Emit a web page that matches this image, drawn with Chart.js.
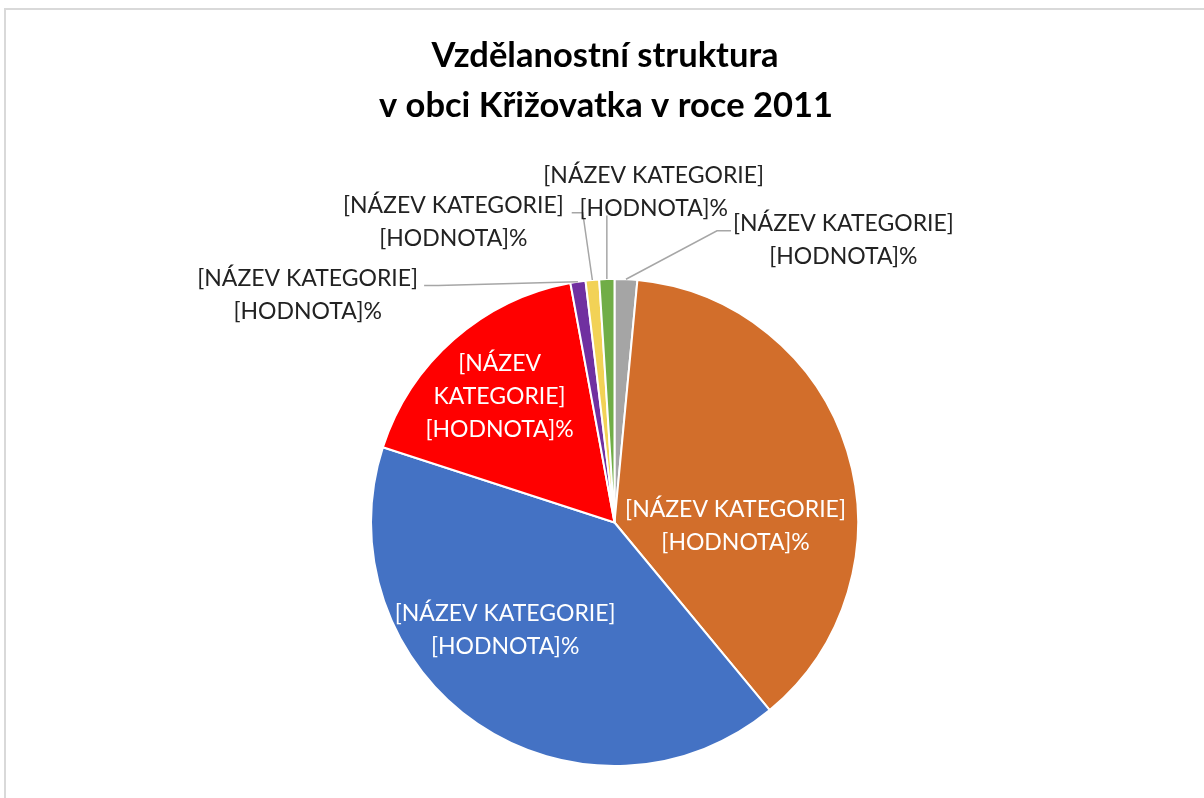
<!DOCTYPE html>
<html><head><meta charset="utf-8">
<script src="https://cdn.jsdelivr.net/npm/chart.js@4.4.1/dist/chart.umd.min.js"></script>
<style>
html,body{margin:0;padding:0;background:#fff;overflow:hidden;}
#wrap{position:absolute;left:0;top:0;width:1204px;height:798px;overflow:hidden;}
#frame{position:absolute;left:4px;top:8px;width:1400px;height:1000px;border:2px solid #D9D9D9;box-sizing:border-box;}
canvas{position:absolute;left:0;top:0;}
</style></head><body>
<div id="wrap"><div id="frame"></div><canvas id="c" width="1204" height="798"></canvas></div>
<script>
// ---- data ----
const titleLines = ['Vzdělanostní struktura', 'v obci Křižovatka v roce 2011'];
const categories = ['[NÁZEV KATEGORIE]','[NÁZEV KATEGORIE]','[NÁZEV KATEGORIE]','[NÁZEV KATEGORIE]','[NÁZEV KATEGORIE]','[NÁZEV KATEGORIE]','[NÁZEV KATEGORIE]'];
const values = [1.5, 37.5, 41.0, 17.1, 1.0, 0.9, 1.0];
const valueLabels = ['[HODNOTA]%','[HODNOTA]%','[HODNOTA]%','[HODNOTA]%','[HODNOTA]%','[HODNOTA]%','[HODNOTA]%'];
const colors = ['#A5A5A5','#D26E2B','#4472C4','#FF0000','#7030A0','#F2D256','#70AD47'];

// ---- label layout (offsets in units of pie radius) ----
const labelLayout = [
  {mode:'out', dx:0.940, dy:-1.159, side:'left', gap:2, elbow:14},
  {mode:'in', dx:0.497, dy:0.016},
  {mode:'in', dx:-0.449, dy:0.441},
  {mode:'in', dx:-0.472, dy:-0.518, wrap:true},
  {mode:'out', dx:-1.260, dy:-0.934, side:'right', gap:6, elbow:14},
  {mode:'out', dx:-0.662, dy:-1.233, side:'right', gap:8, elbow:11},
  {mode:'out', dx:0.161, dy:-1.359, side:'bottom'}
];

const LABEL_FONT = '23px Lato';
const LINE_H = 33;

const labelPlugin = {
  id: 'excelLabels',
  afterDatasetsDraw(chart) {
    const ctx = chart.ctx;
    const meta = chart.getDatasetMeta(0);
    ctx.save();
    ctx.font = LABEL_FONT;
    ctx.textAlign = 'center';
    ctx.textBaseline = 'middle';
    meta.data.forEach((arc, i) => {
      const L = labelLayout[i];
      const p = arc.getProps(['x','y','startAngle','endAngle','outerRadius'], true);
      const r = p.outerRadius;
      const cx = p.x + L.dx * r;
      const cy = p.y + L.dy * r;
      const lines = L.wrap ? categories[i].split(' ').concat([valueLabels[i]]) : [categories[i], valueLabels[i]];
      const top = cy - (lines.length - 1) * LINE_H / 2;
      if (L.mode === 'out') {
        const mid = (p.startAngle + p.endAngle) / 2;
        const sx = p.x + Math.cos(mid) * r;
        const sy = p.y + Math.sin(mid) * r;
        const w = Math.max(...lines.map(t => ctx.measureText(t).width));
        ctx.strokeStyle = '#A6A6A6';
        ctx.lineWidth = 1.5;
        ctx.beginPath();
        ctx.moveTo(sx, sy);
        if (L.side === 'bottom') {
          ctx.lineTo(sx, cy + 24);
        } else {
          const ly = top + 7;
          const ex = L.side === 'left' ? cx - w / 2 - L.gap : cx + w / 2 + L.gap;
          const bx = L.side === 'left' ? ex - L.elbow : ex + L.elbow;
          ctx.lineTo(bx, ly);
          ctx.lineTo(ex, ly);
        }
        ctx.stroke();
        ctx.fillStyle = '#222222';
      } else {
        ctx.fillStyle = '#FFFFFF';
      }
      lines.forEach((t, k) => ctx.fillText(t, cx, top + k * LINE_H));
    });
    ctx.restore();
  }
};

const titlePlugin = {
  id: 'excelTitle',
  afterDraw(chart) {
    const ctx = chart.ctx;
    ctx.save();
    ctx.font = 'bold 34.5px Lato';
    ctx.fillStyle = '#000000';
    ctx.textAlign = 'center';
    ctx.textBaseline = 'alphabetic';
    ctx.fillText(titleLines[0], 605, 67);
    ctx.fillText(titleLines[1], 606, 117);
    ctx.restore();
  }
};

new Chart(document.getElementById('c'), {
  type: 'pie',
  data: {
    labels: categories,
    datasets: [{
      data: values,
      backgroundColor: colors,
      borderColor: '#FFFFFF',
      borderWidth: 2,
      hoverOffset: 0
    }]
  },
  options: {
    responsive: false,
    animation: false,
    events: [],
    layout: { padding: { top: 278, bottom: 31, left: 25, right: 0 } },
    plugins: {
      legend: { display: false },
      title: { display: false },
      tooltip: { enabled: false }
    }
  },
  plugins: [labelPlugin, titlePlugin]
});
</script>
</body></html>
